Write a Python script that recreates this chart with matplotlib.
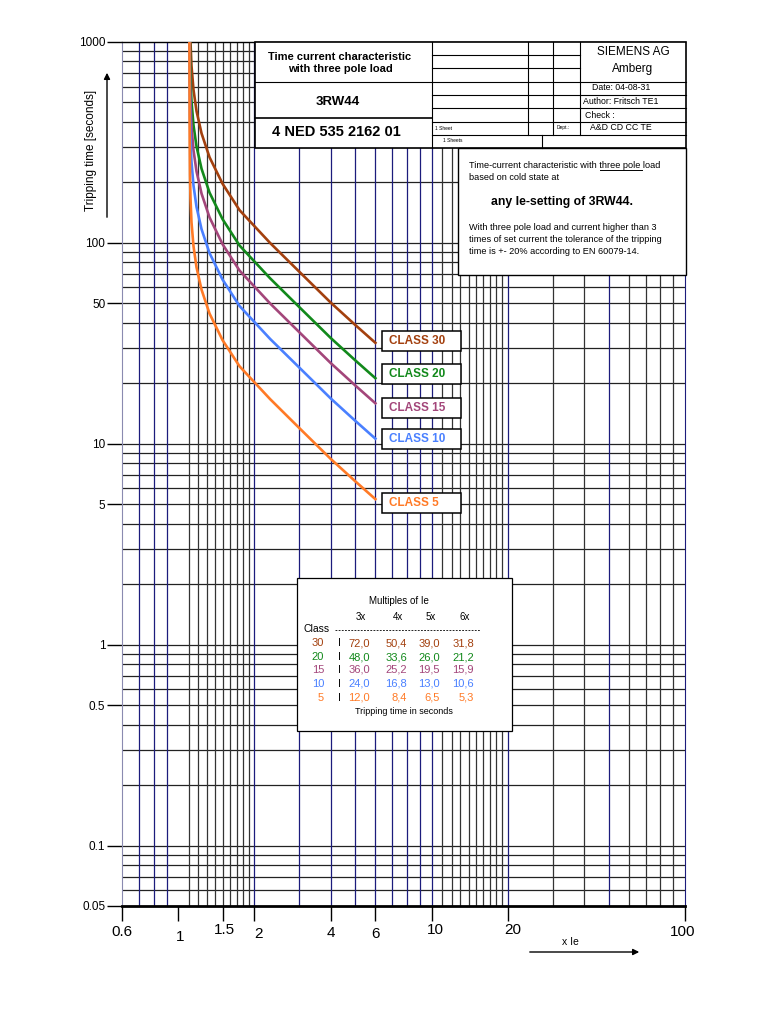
import matplotlib
matplotlib.use("Agg")
import matplotlib.pyplot as plt
import matplotlib.transforms as mtrans
from matplotlib.patches import Rectangle, FancyArrowPatch
from matplotlib.lines import Line2D
from matplotlib.ticker import FixedLocator, FixedFormatter, NullLocator, NullFormatter

plt.rcParams['font.family'] = ['Liberation Sans', 'DejaVu Sans']

W, H = 768, 1024

# --- data ---
class_names = ['CLASS 30', 'CLASS 20', 'CLASS 15', 'CLASS 10', 'CLASS 5']
class_nums = ['30', '20', '15', '10', '5']
colors = ['#a3400e', '#12891b', '#a3467a', '#4a80ff', '#ff7a26']

multiples = [3, 4, 5, 6]
mult_labels = ['3x', '4x', '5x', '6x']
times = [
    [72.0, 50.4, 39.0, 31.8],
    [48.0, 33.6, 26.0, 21.2],
    [36.0, 25.2, 19.5, 15.9],
    [24.0, 16.8, 13.0, 10.6],
    [12.0, 8.4, 6.5, 5.3],
]

# steep part of each curve (x Ie, seconds), read before the 3x..6x table points
head_x = [
    [1.111, 1.113, 1.118, 1.128, 1.149, 1.181, 1.236, 1.329, 1.496, 1.746, 2.303],
    [1.109, 1.111, 1.113, 1.118, 1.128, 1.149, 1.181, 1.236, 1.329, 1.496, 1.746, 2.303],
    [1.109, 1.111, 1.113, 1.118, 1.128, 1.149, 1.181, 1.236, 1.329, 1.496, 1.746, 2.303],
    [1.108, 1.109, 1.111, 1.113, 1.118, 1.128, 1.149, 1.181, 1.236, 1.329, 1.496, 1.746, 2.303],
    [1.107, 1.108, 1.109, 1.111, 1.113, 1.118, 1.128, 1.149, 1.181, 1.236, 1.329, 1.496, 1.746, 2.303],
]
head_t = [
    [1716, 1311, 1000, 763, 578, 453, 351, 267, 197, 145.5, 100],
    [1633, 1144, 874, 667, 509, 385, 302, 234, 178, 131.3, 97.0, 66.7],
    [1225, 858, 656, 500, 382, 289, 227, 176, 134, 98.5, 72.8, 50.0],
    [1150, 817, 572, 437, 333, 254, 193, 151, 117, 89.0, 65.7, 48.5, 33.3],
    [1100, 650, 408, 286, 218.5, 167, 127, 96.3, 75.5, 58.5, 44.5, 32.8, 24.3, 16.7],
]

y_ticks = [1000, 100, 50, 10, 5, 1, 0.5, 0.1, 0.05]
y_tick_labels = ['1000', '100', '50', '10', '5', '1', '0.5', '0.1', '0.05']
x_ticks = [0.6, 1, 1.5, 2, 4, 6, 10, 20, 100]
x_tick_labels = ['0.6', '1', '1.5', '2', '4', '6', '10', '20', '100']
# the x labels sit a little unevenly in the original (pixel nudges)
x_label_dx = [0, 2, 2, 4, 0, 0, 4, 5, -2]
x_label_dy = [26, 31, 24, 28, 27, 28, 24, 24, 26]

blue_x = [0.7, 0.8, 0.9, 2, 3, 4, 5, 6, 7, 8, 9, 10, 20, 50]
black_x = [1 + 0.1 * k for k in range(1, 10)] + list(range(11, 20)) + [30, 40, 60, 70, 80, 90]
h_lines = [m * 10.0 ** e for e in range(-2, 3) for m in range(1, 10)] + [1000]


fig = plt.figure(figsize=(W / 100, H / 100), dpi=100)
ax = fig.add_axes([122 / W, 1 - 906 / H, (685 - 122) / W, (906 - 42) / H])
ax.set_xscale('log')
ax.set_yscale('log')
ax.set_xlim(0.6, 100)
ax.set_ylim(0.05, 1000)

for v in h_lines:
    if 0.05 < v < 1000:
        ax.axhline(v, color='#222222', lw=0.9, zorder=1)
for v in blue_x:
    ax.axvline(v, color='#1c1c7c', lw=0.9, zorder=1)
for v in black_x:
    ax.axvline(v, color='#333333', lw=0.9, zorder=1)

for i in range(5):
    xs = head_x[i] + multiples
    ts = head_t[i] + times[i]
    ax.plot(xs, ts, color=colors[i], lw=1.9, zorder=3, solid_joinstyle='round')

ax.xaxis.set_major_locator(FixedLocator(x_ticks))
ax.xaxis.set_major_formatter(NullFormatter())
ax.yaxis.set_major_locator(FixedLocator(y_ticks))
ax.yaxis.set_major_formatter(FixedFormatter(y_tick_labels))
ax.xaxis.set_minor_locator(NullLocator())
ax.yaxis.set_minor_locator(NullLocator())
ax.tick_params(axis='x', direction='out', length=11, width=1)
ax.tick_params(axis='y', direction='out', length=11, width=1, labelsize=8.5, pad=1)

base = mtrans.blended_transform_factory(ax.transData, ax.transAxes)
for xv, lab, dx, dy in zip(x_ticks, x_tick_labels, x_label_dx, x_label_dy):
    off = mtrans.ScaledTranslation(dx / 100, -dy / 100, fig.dpi_scale_trans)
    ax.text(xv, 0, lab, transform=base + off, fontsize=11, ha='center',
            va='center', clip_on=False)

ax.spines['left'].set_color('#8a8ab0')
ax.spines['right'].set_color('#1c1c7c')
ax.spines['bottom'].set_linewidth(2)
ax.spines['top'].set_linewidth(1)


# --- helpers in pixel coords (origin top-left) ---
def box(x0, y0, x1, y1, lw=1.0):
    fig.add_artist(Rectangle((x0 / W, 1 - y1 / H), (x1 - x0) / W, (y1 - y0) / H,
                             transform=fig.transFigure, fc='white', ec='black',
                             lw=lw, zorder=5))


def line(x0, y0, x1, y1, lw=0.8, ls='-'):
    fig.add_artist(Line2D([x0 / W, x1 / W], [1 - y0 / H, 1 - y1 / H],
                          transform=fig.transFigure, color='black', lw=lw,
                          ls=ls, zorder=6))


def label(x, y, s, size=7, ha='left', weight='normal', color='black'):
    fig.text(x / W, 1 - y / H, s, fontsize=size, ha=ha, va='center',
             fontweight=weight, color=color, zorder=7)


# title block
box(255, 42, 686, 148, lw=1.2)
line(432, 42, 432, 148)
line(255, 82, 432, 82)
line(255, 118, 432, 118, lw=1.2)
for yy in [55, 68]:
    line(432, yy, 580, yy)
for yy in [82, 95, 108, 122, 135]:
    line(432, yy, 686, yy)
line(580, 42, 580, 135)
line(528, 42, 528, 135)
line(553, 42, 553, 135)
line(542, 135, 542, 148)

label(340, 63, 'Time current characteristic\nwith three pole load', size=8, ha='center', weight='bold')
label(338, 102, '3RW44', size=9.5, ha='center', weight='bold')
label(336, 132, '4 NED 535 2162 01', size=10.5, ha='center', weight='bold')
label(633, 52, 'SIEMENS AG', size=8.5, ha='center')
label(633, 69, 'Amberg', size=8.5, ha='center')
label(592, 88, 'Date: 04-08-31', size=6.3)
label(583, 101, 'Author: Fritsch TE1', size=6.3)
label(585, 115, 'Check :', size=6.3)
label(590, 128, 'A&D CD CC TE', size=6.3)
label(435, 128, '1 Sheet', size=3.5)
label(557, 128, 'Dept.:', size=3.5)
label(443, 140, '1 Sheets', size=3.5)

# description box
box(458, 148, 686, 275)
label(469, 165, 'Time-current characteristic with three pole load', size=6.6)
line(600, 170, 642, 170, lw=0.7)
label(469, 177, 'based on cold state at', size=6.6)
label(562, 202, 'any Ie-setting of 3RW44.', size=8.8, ha='center', weight='bold')
label(469, 227, 'With three pole load and current higher than 3', size=6.6)
label(469, 240, 'times of set current the tolerance of the tripping', size=6.6)
label(469, 252, 'time is +- 20% according to EN 60079-14.', size=6.6)

# class labels
label_y = [341, 374, 408, 439, 503]
for name, col, yy in zip(class_names, colors, label_y):
    box(382, yy - 10, 461, yy + 10, lw=1.1)
    label(389, yy, name, size=8.5, weight='bold', color=col)

# table
box(297, 578, 512, 731, lw=0.9)
label(399, 601, 'Multiples of Ie', size=7, ha='center')
col_x = [370, 407, 440, 474]
for cx, m in zip(col_x, mult_labels):
    label(cx - 9, 617, m, size=7, ha='center')
label(303, 629, 'Class', size=7.5)
line(335, 630, 480, 630, lw=0.6, ls=(0, (2.2, 1.6)))
row_y = [643, 657, 670, 684, 698]
for num, col, yy, row in zip(class_nums, colors, row_y, times):
    label(324, yy, num, size=8, ha='right', color=col)
    label(339, yy, 'I', size=7.5, ha='center')
    for cx, v in zip(col_x, row):
        label(cx, yy, f'{v:.1f}'.replace('.', ','), size=8, ha='right', color=col)
label(404, 712, 'Tripping time in seconds', size=6.5, ha='center')

# axis titles and arrows
fig.text(91 / W, 1 - 150 / H, 'Tripping time [seconds]', rotation=90, fontsize=8.5,
         ha='center', va='center')
fig.add_artist(FancyArrowPatch((107 / W, 1 - 220 / H), (107 / W, 1 - 70 / H),
                               transform=fig.transFigure, arrowstyle='-|>',
                               mutation_scale=9, lw=1, color='black'))
fig.text(570 / W, 1 - 942 / H, 'x Ie', fontsize=7.5, ha='center', va='center')
fig.add_artist(FancyArrowPatch((527 / W, 1 - 952 / H), (642 / W, 1 - 952 / H),
                               transform=fig.transFigure, arrowstyle='-|>',
                               mutation_scale=9, lw=1, color='black'))

fig.savefig('out.png', dpi=100, facecolor='white')
